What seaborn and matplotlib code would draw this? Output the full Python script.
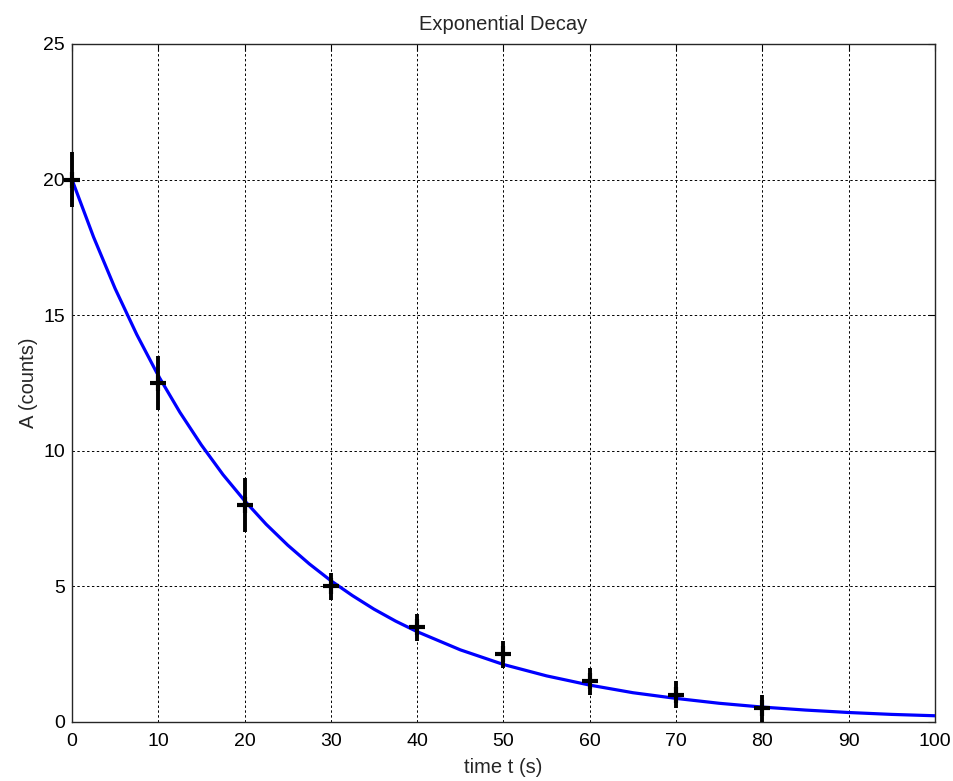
import numpy as np
import pandas as pd
import matplotlib
matplotlib.use("Agg")
import matplotlib.pyplot as plt
import seaborn as sns

# Measured data points
t_data = [0, 10, 20, 30, 40, 50, 60, 70, 80]
A_data = [20.0, 12.5, 8.0, 5.0, 3.5, 2.5, 1.5, 1.0, 0.5]
A_err = [1.0, 1.0, 1.0, 0.5, 0.5, 0.5, 0.5, 0.5, 0.5]

# Fitted curve, values
t_fit = [0, 2.5, 5, 7.5, 10, 12.5, 15, 17.5, 20, 22.5, 25, 27.5, 30, 32.5, 35,
         37.5, 40, 45, 50, 55, 60, 65, 70, 75, 80, 85, 90, 95, 100]
A_fit = [20.00, 17.88, 15.98, 14.29, 12.77, 11.42, 10.21, 9.12, 8.16, 7.29,
         6.52, 5.83, 5.21, 4.66, 4.16, 3.72, 3.33, 2.66, 2.12, 1.70, 1.36,
         1.08, 0.87, 0.69, 0.55, 0.44, 0.35, 0.28, 0.23]

x_ticks = [0, 10, 20, 30, 40, 50, 60, 70, 80, 90, 100]
y_ticks = [0, 5, 10, 15, 20, 25]

sns.set_style("white")
plt.rcParams['font.family'] = ['Liberation Sans', 'DejaVu Sans']

fig = plt.figure(figsize=(9.54, 7.81), dpi=100)
ax = fig.add_axes([72/954, 1-722/781, (935-72)/954, (722-44)/781])

df_fit = pd.DataFrame({"t": t_fit, "A": A_fit})
sns.lineplot(data=df_fit, x="t", y="A", ax=ax, color=(0, 0, 1), linewidth=2.3, zorder=3)

eb = ax.errorbar(t_data, A_data, yerr=A_err, fmt='+', color='black', ms=12, mew=3,
                 elinewidth=2.8, capsize=0, zorder=4)
for artist in eb.lines[0:1]:
    artist.set_clip_on(False)
for coll in eb.lines[2]:
    coll.set_clip_on(False)

ax.set_xlim(0, 100)
ax.set_ylim(0, 25)
ax.set_xticks(x_ticks)
ax.set_yticks(y_ticks)
ax.set_xticklabels([str(v) for v in x_ticks])
ax.set_yticklabels([str(v) for v in y_ticks])

ax.grid(True, color='black', linestyle=(0, (2.5, 2.5)), linewidth=0.7)
ax.set_axisbelow(True)
for s in ax.spines.values():
    s.set_color('#262626')
    s.set_linewidth(1.0)
    s.set_visible(True)
ax.tick_params(direction='in', length=5, width=0.8, top=True, right=True,
               labelsize=14, colors='black')
ax.tick_params(axis='x', pad=8)
ax.tick_params(axis='y', pad=5)

ax.set_xlabel("time t (s)", fontsize=14.5, labelpad=6)
ax.set_ylabel("A (counts)", fontsize=14.5, labelpad=4)
ax.set_title("Exponential Decay", fontsize=14.5, pad=10)

fig.savefig("out.png", dpi=100)
